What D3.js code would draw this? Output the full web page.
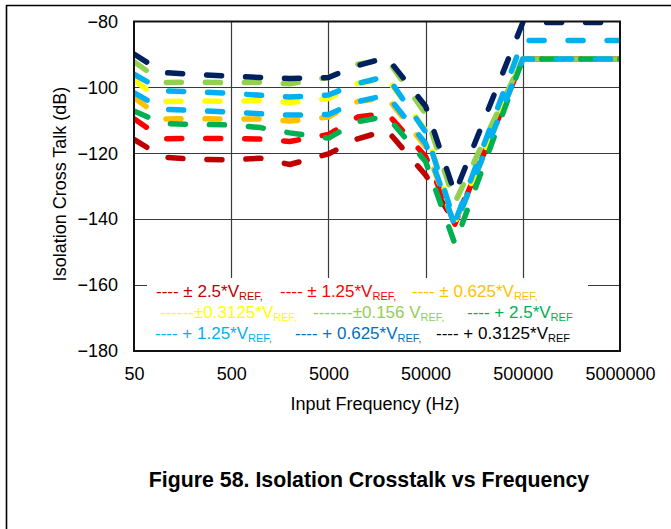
<!DOCTYPE html>
<html>
<head>
<meta charset="utf-8">
<script src="https://cdn.jsdelivr.net/npm/d3@7"></script>
<style>
  html, body { margin: 0; padding: 0; background: #fff; }
  svg { display: block; font-family: "Liberation Sans", Arial, sans-serif; }
</style>
</head>
<body>
<svg id="chart" width="671" height="529"></svg>
<script>
// ---------- data ----------
const frequencies = [50, 100, 200, 500, 1000, 2000, 5000, 10000, 20000, 50000, 100000, 500000, 5000000];
const xTickValues = [50, 500, 5000, 50000, 500000, 5000000];
const yTickValues = [-180, -160, -140, -120, -100, -80];

const seriesNames = ["± 2.5*V", "± 1.25*V", "± 0.625*V", "±0.3125*V", "±0.156 V", "+ 2.5*V", "+ 1.25*V", "+ 0.625*V", "+ 0.3125*V"];
const pm2p5    = [-115.8, -121.2, -121.8, -122.0, -121.5, -123.4, -120.2, -115.6, -113.0, -126.6, -141.0, -91.4, -91.4];
const pm1p25   = [-109.5, -115.6, -115.5, -115.5, -115.7, -116.4, -114.3, -109.0, -107.8, -121.0, -141.5, -91.4, -91.4];
const pm0p625  = [-103.1, -109.6, -109.5, -109.6, -109.6, -110.2, -109.0, -104.3, -103.0, -118.0, -142.0, -91.4, -91.4];
const pm0p3125 = [-97.8, -104.3, -104.1, -104.2, -104.0, -104.6, -103.4, -98.8, -97.3, -113.0, -141.0, -91.4, -91.4];
const pm0p156  = [-92.2, -98.5, -98.4, -98.6, -98.4, -98.9, -97.0, -93.0, -91.4, -108.0, -135.0, -91.4, -91.4];
const p2p5     = [-107.2, -111.0, -111.2, -111.4, -112.2, -113.8, -115.4, -110.4, -108.8, -122.5, -147.5, -91.4, -91.4];
const p1p25    = [-101.6, -106.6, -107.0, -107.5, -108.0, -108.4, -108.2, -104.3, -102.3, -117.0, -142.0, -91.4, -91.4];
const p0p625   = [-96.0, -101.0, -101.3, -101.8, -102.4, -102.9, -102.3, -98.8, -96.6, -113.5, -141.0, -85.8, -85.8];
const p0p3125  = [-89.9, -95.5, -96.0, -96.6, -97.0, -97.3, -97.0, -93.4, -90.9, -105.7, -132.2, -80.3, -80.3];

const seriesValues = [pm2p5, pm1p25, pm0p625, pm0p3125, pm0p156, p2p5, p1p25, p0p625, p0p3125];
const lineColors = ["#C00000", "#FF0000", "#FFC000", "#FFFF00", "#92D050", "#00B050", "#00B0F0", "#00B0F0", "#002060"];

// legend labels (text, subscript, colour)
const legendLabels = [
  ["---- ± 2.5*V", "REF,", "#C00000"],
  ["---- ± 1.25*V", "REF,", "#FF0000"],
  ["---- ± 0.625*V", "REF,", "#FFC000"],
  ["------±0.3125*V", "REF,", "#FFFF00"],
  ["-------±0.156 V", "REF,", "#92D050"],
  ["---- + 2.5*V", "REF", "#00B050"],
  ["---- + 1.25*V", "REF,", "#00B0F0"],
  ["---- + 0.625*V", "REF,", "#0070C0"],
  ["---- + 0.3125*V", "REF", "#000000"]
];

const yTitle = "Isolation Cross Talk (dB)";
const xTitle = "Input Frequency (Hz)";
const figTitle = "Figure 58. Isolation Crosstalk vs Frequency";

// ---------- layout ----------
const W = 671, H = 529;
const plot = { left: 134, right: 620, top: 21.5, bottom: 351 };
const legendBox = { x: 147, y: 278, w: 441, h: 72 };
const legendPos = [[156, 297], [280, 297], [412, 297], [160, 318], [313, 318], [467, 318], [155, 339], [295, 339], [436, 339]];

const svg = d3.select("#chart");

const x = d3.scaleLog().domain([50, 5000000]).range([plot.left, plot.right]);
const y = d3.scaleLinear().domain([-180, -80]).range([plot.bottom, plot.top]);

// outer frame
svg.append("line").attr("x1", 6).attr("x2", W).attr("y1", 5.5).attr("y2", 5.5)
  .attr("stroke", "#000").attr("stroke-width", 1.3);
svg.append("line").attr("x1", 6.5).attr("x2", 6.5).attr("y1", 5).attr("y2", H)
  .attr("stroke", "#000").attr("stroke-width", 1.6);

// grid
const grid = svg.append("g");
grid.selectAll(".vg").data(xTickValues.slice(1, -1)).enter().append("line")
  .attr("x1", d => Math.round(x(d)) + 0.5).attr("x2", d => Math.round(x(d)) + 0.5)
  .attr("y1", plot.top).attr("y2", plot.bottom)
  .attr("stroke", "#3a3a3a").attr("stroke-width", 1.2);
grid.selectAll(".hg").data(yTickValues.slice(1, -1)).enter().append("line")
  .attr("x1", plot.left).attr("x2", plot.right)
  .attr("y1", d => Math.round(y(d)) + 0.5).attr("y2", d => Math.round(y(d)) + 0.5)
  .attr("stroke", "#3a3a3a").attr("stroke-width", 1.2);

// legend background
svg.append("rect").attr("x", legendBox.x).attr("y", legendBox.y)
  .attr("width", legendBox.w).attr("height", legendBox.h).attr("fill", "#fff");

// clip
svg.append("clipPath").attr("id", "clip").append("rect")
  .attr("x", plot.left).attr("y", plot.top)
  .attr("width", plot.right - plot.left).attr("height", plot.bottom - plot.top);

const line = d3.line().x((d, i) => x(frequencies[i])).y(d => y(d));
const lines = svg.append("g").attr("clip-path", "url(#clip)");
seriesValues.forEach((vals, k) => {
  lines.append("path").datum(vals)
    .attr("d", line)
    .attr("fill", "none")
    .attr("stroke", lineColors[k])
    .attr("stroke-width", 5.5)
    .attr("stroke-linecap", "round")
    .attr("stroke-linejoin", "round")
    .attr("stroke-dasharray", "15 24");
});

// plot border
svg.append("rect").attr("x", plot.left).attr("y", plot.top)
  .attr("width", plot.right - plot.left).attr("height", plot.bottom - plot.top)
  .attr("fill", "none").attr("stroke", "#111").attr("stroke-width", 2);

// axes
const xAxis = d3.axisBottom(x).tickValues(xTickValues).tickFormat(d3.format("d")).tickSize(0).tickPadding(0);
const gx = svg.append("g").attr("transform", `translate(0,${plot.bottom})`).call(xAxis);
gx.select(".domain").remove();
gx.selectAll("text").attr("font-size", 18).attr("fill", "#000")
  .attr("dy", null).attr("y", 29).attr("font-family", "Liberation Sans, Arial, sans-serif");

const yAxis = d3.axisLeft(y).tickValues(yTickValues).tickFormat(d => d3.format("d")(d).replace("-", "\u2212")).tickSize(0).tickPadding(0);
const gy = svg.append("g").attr("transform", `translate(${118},0)`).call(yAxis);
gy.select(".domain").remove();
gy.selectAll("text").attr("font-size", 18).attr("fill", "#000")
  .attr("font-family", "Liberation Sans, Arial, sans-serif");

// axis titles
svg.append("text").attr("x", 375).attr("y", 410).attr("text-anchor", "middle")
  .attr("font-size", 18).attr("fill", "#000").text(xTitle);
svg.append("text").attr("transform", "translate(66,184) rotate(-90)").attr("text-anchor", "middle")
  .attr("font-size", 18).attr("fill", "#000").text(yTitle);

// legend
legendLabels.forEach((lab, i) => {
  const t = svg.append("text").attr("x", legendPos[i][0]).attr("y", legendPos[i][1])
    .attr("font-size", 17).attr("fill", lab[2]);
  t.append("tspan").text(lab[0]);
  t.append("tspan").attr("font-size", 11).attr("dy", 2.5).text(lab[1]);
});

// figure title
svg.append("text").attr("x", 369).attr("y", 487).attr("text-anchor", "middle")
  .attr("font-size", 21.3).attr("font-weight", "bold").attr("fill", "#000").text(figTitle);
</script>
</body>
</html>
